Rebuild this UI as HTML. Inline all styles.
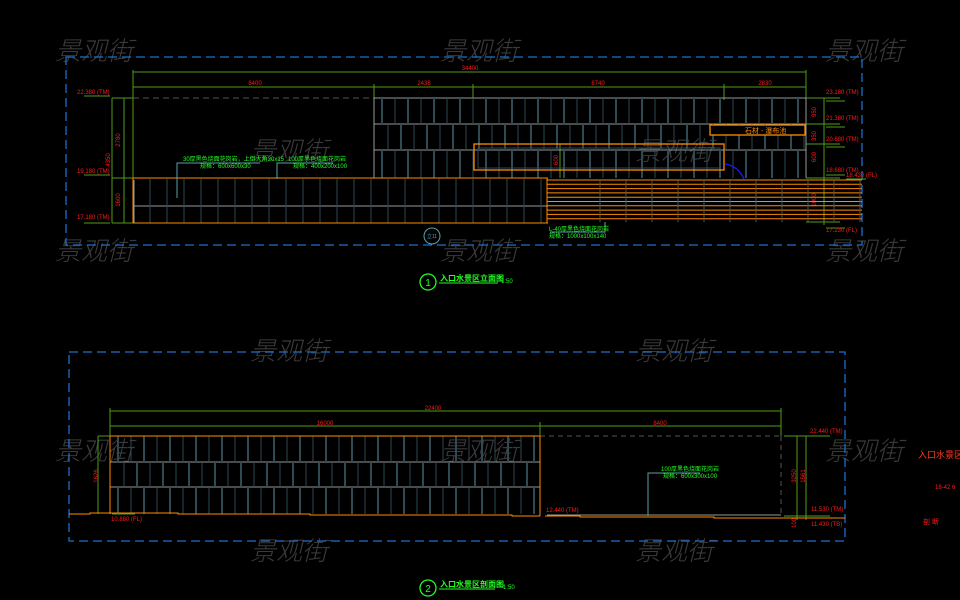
<!DOCTYPE html>
<html><head><meta charset="utf-8">
<style>
html,body{margin:0;padding:0;background:#000;width:960px;height:600px;overflow:hidden}
svg{display:block}
text{font-family:"Liberation Sans","Noto Sans CJK SC",sans-serif}
.r{fill:#ff1a1a;font-size:6px}
.g{fill:#22ff22;font-size:6px}
.wm{fill:#3a3a3a;font-size:26px;font-style:italic;font-family:"Noto Sans CJK SC",sans-serif;font-weight:300}
</style></head><body>
<svg id="s" width="960" height="600" viewBox="0 0 960 600" xmlns="http://www.w3.org/2000/svg">
<g id="wm"></g>
<rect x="66" y="57" width="796" height="188" fill="none" stroke="#1a6fd0" stroke-width="1.3" stroke-dasharray="9,5"/>
<g stroke="#4f9a1a" stroke-width="1" fill="none">
<line x1="133" y1="72" x2="806" y2="72"/>
<line x1="133" y1="87" x2="806" y2="87"/>
<line x1="133" y1="70" x2="133" y2="223"/>
<line x1="374" y1="84" x2="374" y2="98"/>
<line x1="473" y1="84" x2="473" y2="98"/>
<line x1="724" y1="84" x2="724" y2="100"/>
<line x1="806" y1="70" x2="806" y2="98"/>
<line x1="112" y1="98" x2="133" y2="98"/><line x1="112" y1="178" x2="133" y2="178"/><line x1="112" y1="223" x2="133" y2="223"/>
<line x1="112" y1="98" x2="112" y2="223"/><line x1="124" y1="98" x2="124" y2="223"/>
<line x1="84" y1="96" x2="110" y2="96"/><line x1="84" y1="175" x2="110" y2="175"/><line x1="84" y1="223" x2="110" y2="223"/>
<line x1="806" y1="98" x2="840" y2="98"/><line x1="806" y1="124" x2="840" y2="124"/><line x1="806" y1="144" x2="840" y2="144"/><line x1="806" y1="178" x2="840" y2="178"/><line x1="806" y1="222" x2="840" y2="222"/>
<line x1="824" y1="98" x2="824" y2="225"/>
<line x1="826" y1="101" x2="845" y2="101"/><line x1="826" y1="127" x2="845" y2="127"/><line x1="826" y1="147" x2="845" y2="147"/><line x1="826" y1="175" x2="845" y2="175"/><line x1="846" y1="179" x2="866" y2="179"/><line x1="826" y1="228" x2="845" y2="228"/>
<line x1="560" y1="144" x2="560" y2="178"/>
</g>
<g class="r" text-anchor="middle">
<text x="470" y="70">34400</text><text x="255" y="85">8400</text><text x="424" y="85">2438</text><text x="598" y="85">8740</text><text x="765" y="85">2830</text>
<text x="120" y="140" transform="rotate(-90 120 140)">2780</text><text x="110" y="160" transform="rotate(-90 110 160)">4350</text><text x="120" y="200" transform="rotate(-90 120 200)">1600</text>
<text x="816" y="112" transform="rotate(-90 816 112)">950</text><text x="816" y="136" transform="rotate(-90 816 136)">350</text><text x="816" y="157" transform="rotate(-90 816 157)">600</text><text x="816" y="200" transform="rotate(-90 816 200)">1000</text>
<text x="558" y="160" transform="rotate(-90 558 160)">600</text>
</g>
<g class="r">
<text x="77" y="94">22.380 (TM)</text><text x="77" y="173">19.180 (TM)</text><text x="77" y="219">17.180 (TM)</text>
<text x="826" y="94">23.180 (TM)</text><text x="826" y="120">21.380 (TM)</text><text x="826" y="141">20.680 (TM)</text><text x="826" y="172">18.680 (TM)</text><text x="846" y="177">18.430 (FL)</text><text x="826" y="232">17.230 (FL)</text>
</g>
<line x1="133" y1="98" x2="374" y2="98" stroke="#555" stroke-dasharray="6,4"/>
<g stroke="#999" stroke-width="1" fill="none">
<line x1="374" y1="98" x2="806" y2="98"/><line x1="374" y1="124" x2="806" y2="124"/><line x1="374" y1="150" x2="806" y2="150"/>
<line x1="374" y1="98" x2="374" y2="178"/><line x1="806" y1="98" x2="806" y2="178"/>
<line x1="134" y1="206" x2="548" y2="206"/><line x1="134" y1="180" x2="134" y2="223"/>
</g>
<g id="bars"></g>
<rect x="474" y="144" width="250" height="26" fill="none" stroke="#ff8c00" stroke-width="1.3"/>
<rect x="478" y="148" width="242" height="20" fill="none" stroke="#2e4a55"/>
<rect x="710" y="125" width="95" height="10" fill="#000" stroke="#ff8c00" stroke-width="1.3"/>
<text x="745" y="133" fill="#ff8c00" font-size="7">石材 - 瀑布池</text>
<line x1="133" y1="178" x2="548" y2="178" stroke="#ff8c00"/>
<line x1="133" y1="223" x2="548" y2="223" stroke="#ff8c00"/>
<line x1="133" y1="178" x2="133" y2="223" stroke="#ff8c00"/>
<g id="stairs"></g>
<path d="M725 164 Q738 166 744 179" stroke="#1a1aff" fill="none" stroke-width="1.3"/>
<g stroke="#5aa0a8" fill="none">
<path d="M177 198 V163 H260"/><path d="M277 179 V163 H333"/><path d="M605 222 V232 H550"/>
</g>
<g class="g"><text x="183" y="161">30厚黑色烧面花岗岩，上倒大角20x15</text><text x="200" y="168">规格：600x600x30</text>
<text x="288" y="161">100厚黑色烧面花岗岩</text><text x="293" y="168">规格：400x200x100</text>
<text x="549" y="231">L-40厚黑色烧面花岗岩</text><text x="549" y="238">规格：1000x100x140</text></g>
<circle cx="432" cy="236" r="8" fill="none" stroke="#5aa0a8"/><text x="432" y="238" fill="#5aa0a8" font-size="5" text-anchor="middle">立11</text>
<circle cx="428" cy="282" r="8" fill="none" stroke="#22ff22" stroke-width="1.3"/>
<text x="428" y="286" fill="#22ff22" font-size="10" text-anchor="middle">1</text>
<text x="440" y="281" fill="#22ff22" font-size="8" font-weight="bold">入口水景区立面图</text>
<line x1="439" y1="283" x2="498" y2="283" stroke="#22ff22"/>
<text x="501" y="283" fill="#22ff22" font-size="6">1:50</text>

<rect x="69" y="352" width="776" height="189" fill="none" stroke="#1a6fd0" stroke-width="1.3" stroke-dasharray="9,5"/>
<g stroke="#4f9a1a" fill="none">
<line x1="110" y1="411" x2="781" y2="411"/><line x1="110" y1="426" x2="781" y2="426"/>
<line x1="110" y1="408" x2="110" y2="436"/><line x1="540" y1="422" x2="540" y2="436"/><line x1="781" y1="408" x2="781" y2="436"/>
<line x1="98" y1="436" x2="110" y2="436"/><line x1="98" y1="436" x2="98" y2="514"/>
<line x1="784" y1="436" x2="830" y2="436"/><line x1="797" y1="436" x2="797" y2="520"/><line x1="806" y1="436" x2="806" y2="520"/>
<line x1="784" y1="516" x2="830" y2="516"/><line x1="545" y1="516" x2="580" y2="516"/><line x1="112" y1="514" x2="135" y2="514"/>
</g>
<g class="r">
<text x="433" y="410" text-anchor="middle">22400</text><text x="325" y="425" text-anchor="middle">16000</text><text x="660" y="425" text-anchor="middle">8400</text>
<text x="98" y="476" transform="rotate(-90 98 476)" text-anchor="middle">1626</text>
<text x="796" y="476" transform="rotate(-90 796 476)" text-anchor="middle">3250</text><text x="805" y="476" transform="rotate(-90 805 476)" text-anchor="middle">1561</text>
<text x="796" y="523" transform="rotate(-90 796 523)" text-anchor="middle">100</text>
<text x="111" y="521">10.880 (FL)</text><text x="546" y="512">12.440 (TM)</text>
<text x="810" y="433">22.440 (TM)</text><text x="811" y="511">11.530 (TM)</text><text x="811" y="526">11.430 (TB)</text>
<text x="918" y="458" font-size="9" fill="#ff3a1a">入口水景区剖</text><text x="935" y="489">18-42 6</text><text x="923" y="524" font-size="7">剖 断</text>
</g>
<g stroke="#999" fill="none">
<line x1="110" y1="462" x2="540" y2="462"/><line x1="110" y1="487" x2="540" y2="487"/>
<line x1="547" y1="515" x2="781" y2="515"/>
</g>
<line x1="540" y1="436" x2="781" y2="436" stroke="#555" stroke-dasharray="5,4"/>
<line x1="781" y1="436" x2="781" y2="516" stroke="#555" stroke-dasharray="5,4"/>
<g id="bars2"></g>
<g stroke="#ff8c00" fill="none">
<line x1="110" y1="436" x2="540" y2="436"/><line x1="110" y1="436" x2="110" y2="514"/><line x1="540" y1="436" x2="540" y2="516"/>
<path d="M69 514 H90 V513 H178 V514 H310 V515 H512 V516 H540"/>
<path d="M545 516 H580 V517 H714 V518 H845"/>
</g>
<path d="M648 516 V473 H700" stroke="#5aa0a8" fill="none"/>
<g class="g"><text x="661" y="471">100厚黑色烧面花岗岩</text><text x="663" y="478">规格：600x300x100</text></g>
<circle cx="428" cy="588" r="8" fill="none" stroke="#22ff22" stroke-width="1.3"/>
<text x="428" y="592" fill="#22ff22" font-size="10" text-anchor="middle">2</text>
<text x="440" y="587" fill="#22ff22" font-size="8" font-weight="bold">入口水景区剖面图</text>
<line x1="439" y1="589" x2="495" y2="589" stroke="#22ff22"/>
<text x="503" y="589" fill="#22ff22" font-size="6">1:50</text>
</svg>
<script>
var NS="http://www.w3.org/2000/svg";
function L(g,x1,y1,x2,y2,c,w){var l=document.createElementNS(NS,"line");l.setAttribute("x1",x1);l.setAttribute("y1",y1);l.setAttribute("x2",x2);l.setAttribute("y2",y2);l.setAttribute("stroke",c);l.setAttribute("stroke-width",w);g.appendChild(l);}
var b=document.getElementById("bars");
for(var x=382,i=0;x<806;x+=13,i++){var w=i%2==0?2:1;L(b,x,98,x,124,"#2e4a55",w);L(b,x+6,124,x+6,150,"#2e4a55",3-w);L(b,x,150,x,178,"#2e4a55",w);}
for(var x=150;x<548;x+=17){L(b,x,179,x,223,"#2e4a55",1);}
var s=document.getElementById("stairs");
for(var y=180;y<=222;y+=4.3){L(s,547,y,862,y,"#ff8c00",1);}
L(s,547,178,547,223,"#ff8c00",1);
for(var x=600;x<862;x+=26){L(s,x,180,x,222,"#555",1);}
var b2=document.getElementById("bars2");
for(var x=118,i=0;x<540;x+=13,i++){var w=i%2==0?2:1;L(b2,x,436,x,462,"#2e4a55",w);L(b2,x+6,462,x+6,487,"#2e4a55",3-w);L(b2,x,487,x,514,"#2e4a55",w);}
var wm=document.getElementById("wm");
var pos=[[55,60],[440,60],[825,60],[250,160],[635,160],[55,260],[440,260],[825,260],[250,360],[635,360],[55,460],[440,460],[825,460],[250,560],[635,560]];
pos.forEach(function(p){var t=document.createElementNS(NS,"text");t.setAttribute("x",p[0]);t.setAttribute("y",p[1]);t.setAttribute("class","wm");t.textContent="景观街";wm.appendChild(t);});
</script>
</body></html>
